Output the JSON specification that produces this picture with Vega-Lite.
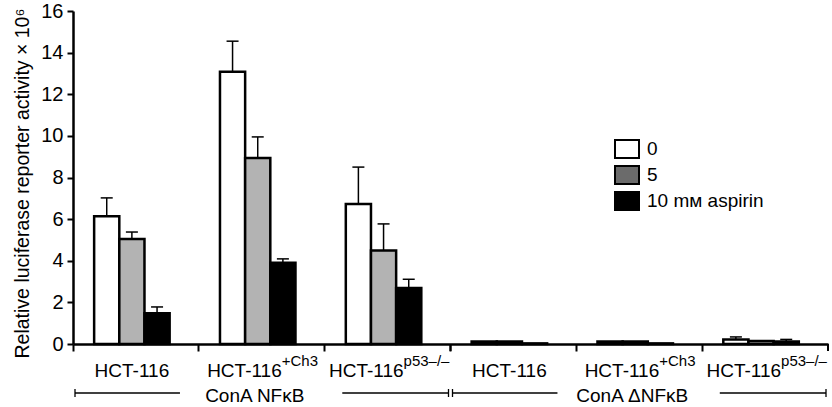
{
  "$schema": "https://vega.github.io/schema/vega-lite/v6.json",
  "autosize": "none",
  "width": 755,
  "height": 333,
  "padding": {"left": 73, "top": 11, "right": 4, "bottom": 63},
  "background": "white",
  "config": {
    "view": {"stroke": null},
    "font": "Liberation Sans",
    "text": {"font": "Liberation Sans", "color": "black"},
    "axis": {"labelFont": "Liberation Sans", "titleFont": "Liberation Sans", "labelColor": "black", "titleColor": "black", "domainColor": "black", "tickColor": "black", "grid": false},
    "legend": {"labelFont": "Liberation Sans", "labelColor": "black"}
  },
  "resolve": {"scale": {"fill": "independent"}},
  "datasets": {
    "bars": [
      {"cell": "NF HCT-116", "dose": "0", "value": 6.14, "err": 7.02},
      {"cell": "NF HCT-116", "dose": "5", "value": 5.05, "err": 5.38},
      {"cell": "NF HCT-116", "dose": "10 mᴍ aspirin", "value": 1.48, "err": 1.78},
      {"cell": "NF HCT-116+Ch3", "dose": "0", "value": 13.08, "err": 14.55},
      {"cell": "NF HCT-116+Ch3", "dose": "5", "value": 8.94, "err": 9.95},
      {"cell": "NF HCT-116+Ch3", "dose": "10 mᴍ aspirin", "value": 3.9, "err": 4.09},
      {"cell": "NF HCT-116p53", "dose": "0", "value": 6.73, "err": 8.5},
      {"cell": "NF HCT-116p53", "dose": "5", "value": 4.49, "err": 5.77},
      {"cell": "NF HCT-116p53", "dose": "10 mᴍ aspirin", "value": 2.69, "err": 3.11},
      {"cell": "dNF HCT-116", "dose": "0", "value": 0.12, "err": 0.12},
      {"cell": "dNF HCT-116", "dose": "5", "value": 0.12, "err": 0.12},
      {"cell": "dNF HCT-116", "dose": "10 mᴍ aspirin", "value": 0.03, "err": 0.03},
      {"cell": "dNF HCT-116+Ch3", "dose": "0", "value": 0.12, "err": 0.12},
      {"cell": "dNF HCT-116+Ch3", "dose": "5", "value": 0.12, "err": 0.12},
      {"cell": "dNF HCT-116+Ch3", "dose": "10 mᴍ aspirin", "value": 0.03, "err": 0.03},
      {"cell": "dNF HCT-116p53", "dose": "0", "value": 0.22, "err": 0.34},
      {"cell": "dNF HCT-116p53", "dose": "5", "value": 0.14, "err": 0.14},
      {"cell": "dNF HCT-116p53", "dose": "10 mᴍ aspirin", "value": 0.12, "err": 0.22}
    ],
    "labels": [
      {"cell": "NF HCT-116", "base": "HCT-116", "sup": "", "kind": "plain"},
      {"cell": "NF HCT-116+Ch3", "base": "HCT-116", "sup": "+Ch3", "kind": "ch3"},
      {"cell": "NF HCT-116p53", "base": "HCT-116", "sup": "p53–/–", "kind": "p53"},
      {"cell": "dNF HCT-116", "base": "HCT-116", "sup": "", "kind": "plain"},
      {"cell": "dNF HCT-116+Ch3", "base": "HCT-116", "sup": "+Ch3", "kind": "ch3"},
      {"cell": "dNF HCT-116p53", "base": "HCT-116", "sup": "p53–/–", "kind": "p53"}
    ],
    "groups": [
      {"first": "NF HCT-116", "mid": "NF HCT-116+Ch3", "last": "NF HCT-116p53", "name": "ConA NFκB"},
      {"first": "dNF HCT-116", "mid": "dNF HCT-116+Ch3", "last": "dNF HCT-116p53", "name": "ConA ΔNFκB"}
    ]
  },
  "layer": [
    {
      "data": {"name": "bars"},
      "mark": {"type": "bar", "stroke": "black", "strokeWidth": 2.5, "opacity": 1},
      "encoding": {
        "x": {"field": "cell", "type": "nominal", "title": null,
          "scale": {"domain": ["NF HCT-116", "NF HCT-116+Ch3", "NF HCT-116p53", "dNF HCT-116", "dNF HCT-116+Ch3", "dNF HCT-116p53"], "paddingInner": 0, "paddingOuter": 0},
          "axis": {"title": null, "labels": false, "bandPosition": 0, "tickSize": 7, "tickWidth": 2, "domainWidth": 2.5}},
        "xOffset": {"field": "dose", "type": "nominal",
          "scale": {"domain": ["0", "5", "10 mᴍ aspirin"], "paddingInner": 0, "paddingOuter": 1.24, "align": 0.42}},
        "y": {"field": "value", "type": "quantitative",
          "scale": {"domain": [0, 16], "nice": false},
          "axis": {"title": "Relative luciferase reporter activity × 10⁶", "values": [0, 2, 4, 6, 8, 10, 12, 14, 16], "tickSize": 6, "tickWidth": 2, "domainWidth": 2.5, "labelFontSize": 20, "labelPadding": 4, "titleFontSize": 19.5, "titleFontWeight": "normal", "titlePadding": 8, "titleY": 172}},
        "fill": {"field": "dose", "type": "nominal",
          "scale": {"domain": ["0", "5", "10 mᴍ aspirin"], "range": ["#ffffff", "#b3b3b3", "#000000"]},
          "legend": null}
      }
    },
    {
      "data": {"name": "bars"},
      "transform": [{"filter": "datum.value < 0"}],
      "mark": {"type": "bar", "stroke": "black", "strokeWidth": 2, "opacity": 1},
      "encoding": {
        "x": {"field": "cell", "type": "nominal", "title": null, "scale": {"domain": ["NF HCT-116", "NF HCT-116+Ch3", "NF HCT-116p53", "dNF HCT-116", "dNF HCT-116+Ch3", "dNF HCT-116p53"]}},
        "y": {"field": "value", "type": "quantitative"},
        "fill": {"field": "dose", "type": "nominal",
          "scale": {"domain": ["0", "5", "10 mᴍ aspirin"], "range": ["#ffffff", "#6b6b6b", "#000000"]},
          "legend": {"title": null, "orient": "none", "legendX": 541, "legendY": 125, "padding": 0,
            "symbolType": "M-1,-0.75H1V0.75H-1Z", "symbolSize": 576, "symbolStrokeColor": "black", "symbolStrokeWidth": 2, "symbolOpacity": 1,
            "labelFontSize": 19, "labelOffset": 7, "rowPadding": 0}}
      }
    },
    {
      "data": {"name": "bars"},
      "transform": [{"filter": "datum.err > datum.value"}],
      "mark": {"type": "rule", "color": "black", "strokeWidth": 1.5},
      "encoding": {
        "x": {"field": "cell", "type": "nominal", "title": null, "scale": {"domain": ["NF HCT-116", "NF HCT-116+Ch3", "NF HCT-116p53", "dNF HCT-116", "dNF HCT-116+Ch3", "dNF HCT-116p53"]}},
        "xOffset": {"field": "dose", "type": "nominal"},
        "y": {"field": "value", "type": "quantitative"},
        "y2": {"field": "err"}
      }
    },
    {
      "data": {"name": "bars"},
      "transform": [{"filter": "datum.err > datum.value"}],
      "mark": {"type": "tick", "color": "black", "thickness": 1.5, "size": 12, "opacity": 1},
      "encoding": {
        "x": {"field": "cell", "type": "nominal", "title": null, "scale": {"domain": ["NF HCT-116", "NF HCT-116+Ch3", "NF HCT-116p53", "dNF HCT-116", "dNF HCT-116+Ch3", "dNF HCT-116p53"]}},
        "xOffset": {"field": "dose", "type": "nominal"},
        "y": {"field": "err", "type": "quantitative"}
      }
    },
    {
      "data": {"name": "labels"},
      "transform": [{"filter": "datum.kind === 'plain'"}],
      "mark": {"type": "text", "fontSize": 19, "baseline": "alphabetic", "align": "center", "dy": 33, "dx": -4},
      "encoding": {
        "x": {"field": "cell", "type": "nominal", "title": null, "scale": {"domain": ["NF HCT-116", "NF HCT-116+Ch3", "NF HCT-116p53", "dNF HCT-116", "dNF HCT-116+Ch3", "dNF HCT-116p53"]}},
        "y": {"datum": 0, "type": "quantitative"},
        "text": {"field": "base"}
      }
    },
    {
      "data": {"name": "labels"},
      "transform": [{"filter": "datum.kind === 'ch3'"}],
      "mark": {"type": "text", "fontSize": 19, "baseline": "alphabetic", "align": "right", "dy": 33, "dx": 20},
      "encoding": {
        "x": {"field": "cell", "type": "nominal", "title": null, "scale": {"domain": ["NF HCT-116", "NF HCT-116+Ch3", "NF HCT-116p53", "dNF HCT-116", "dNF HCT-116+Ch3", "dNF HCT-116p53"]}},
        "y": {"datum": 0, "type": "quantitative"},
        "text": {"field": "base"}
      }
    },
    {
      "data": {"name": "labels"},
      "transform": [{"filter": "datum.kind === 'ch3'"}],
      "mark": {"type": "text", "fontSize": 15, "baseline": "alphabetic", "align": "left", "dy": 22, "dx": 20},
      "encoding": {
        "x": {"field": "cell", "type": "nominal", "title": null, "scale": {"domain": ["NF HCT-116", "NF HCT-116+Ch3", "NF HCT-116p53", "dNF HCT-116", "dNF HCT-116+Ch3", "dNF HCT-116p53"]}},
        "y": {"datum": 0, "type": "quantitative"},
        "text": {"field": "sup"}
      }
    },
    {
      "data": {"name": "labels"},
      "transform": [{"filter": "datum.kind === 'p53'"}],
      "mark": {"type": "text", "fontSize": 19, "baseline": "alphabetic", "align": "right", "dy": 33, "dx": 16},
      "encoding": {
        "x": {"field": "cell", "type": "nominal", "title": null, "scale": {"domain": ["NF HCT-116", "NF HCT-116+Ch3", "NF HCT-116p53", "dNF HCT-116", "dNF HCT-116+Ch3", "dNF HCT-116p53"]}},
        "y": {"datum": 0, "type": "quantitative"},
        "text": {"field": "base"}
      }
    },
    {
      "data": {"name": "labels"},
      "transform": [{"filter": "datum.kind === 'p53'"}],
      "mark": {"type": "text", "fontSize": 15, "baseline": "alphabetic", "align": "left", "dy": 22, "dx": 16},
      "encoding": {
        "x": {"field": "cell", "type": "nominal", "title": null, "scale": {"domain": ["NF HCT-116", "NF HCT-116+Ch3", "NF HCT-116p53", "dNF HCT-116", "dNF HCT-116+Ch3", "dNF HCT-116p53"]}},
        "y": {"datum": 0, "type": "quantitative"},
        "text": {"field": "sup"}
      }
    },
    {
      "data": {"name": "groups"},
      "mark": {"type": "text", "fontSize": 19, "baseline": "alphabetic", "align": "center", "dy": 58, "dx": -7},
      "encoding": {
        "x": {"field": "mid", "type": "nominal", "title": null, "scale": {"domain": ["NF HCT-116", "NF HCT-116+Ch3", "NF HCT-116p53", "dNF HCT-116", "dNF HCT-116+Ch3", "dNF HCT-116p53"]}},
        "y": {"datum": 0, "type": "quantitative"},
        "text": {"field": "name"}
      }
    },
    {
      "data": {"name": "groups"},
      "mark": {"type": "rule", "color": "black", "strokeWidth": 1.3, "yOffset": 49, "y2Offset": 49, "xOffset": 2},
      "encoding": {
        "x": {"field": "first", "type": "nominal", "bandPosition": 0, "title": null, "scale": {"domain": ["NF HCT-116", "NF HCT-116+Ch3", "NF HCT-116p53", "dNF HCT-116", "dNF HCT-116+Ch3", "dNF HCT-116p53"]}},
        "x2": {"field": "first", "bandPosition": 0.85},
        "y": {"datum": 0, "type": "quantitative"},
        "y2": {"datum": 0}
      }
    },
    {
      "data": {"name": "groups"},
      "mark": {"type": "rule", "color": "black", "strokeWidth": 1.3, "yOffset": 49, "y2Offset": 49, "x2Offset": -2},
      "encoding": {
        "x": {"field": "last", "type": "nominal", "bandPosition": 0.14, "title": null, "scale": {"domain": ["NF HCT-116", "NF HCT-116+Ch3", "NF HCT-116p53", "dNF HCT-116", "dNF HCT-116+Ch3", "dNF HCT-116p53"]}},
        "x2": {"field": "last", "bandPosition": 1},
        "y": {"datum": 0, "type": "quantitative"},
        "y2": {"datum": 0}
      }
    },
    {
      "data": {"name": "groups"},
      "mark": {"type": "rule", "color": "black", "strokeWidth": 1.3, "yOffset": 45, "y2Offset": 53, "xOffset": 2},
      "encoding": {
        "x": {"field": "first", "type": "nominal", "bandPosition": 0, "title": null, "scale": {"domain": ["NF HCT-116", "NF HCT-116+Ch3", "NF HCT-116p53", "dNF HCT-116", "dNF HCT-116+Ch3", "dNF HCT-116p53"]}},
        "y": {"datum": 0, "type": "quantitative"},
        "y2": {"datum": 0}
      }
    },
    {
      "data": {"name": "groups"},
      "mark": {"type": "rule", "color": "black", "strokeWidth": 1.3, "yOffset": 45, "y2Offset": 53, "xOffset": -2},
      "encoding": {
        "x": {"field": "last", "type": "nominal", "bandPosition": 1, "title": null, "scale": {"domain": ["NF HCT-116", "NF HCT-116+Ch3", "NF HCT-116p53", "dNF HCT-116", "dNF HCT-116+Ch3", "dNF HCT-116p53"]}},
        "y": {"datum": 0, "type": "quantitative"},
        "y2": {"datum": 0}
      }
    },
    {
      "data": {"name": "groups"},
      "mark": {"type": "rule", "color": "black", "strokeWidth": 2, "yOffset": 0, "y2Offset": 7},
      "encoding": {
        "x": {"field": "last", "type": "nominal", "bandPosition": 1, "title": null, "scale": {"domain": ["NF HCT-116", "NF HCT-116+Ch3", "NF HCT-116p53", "dNF HCT-116", "dNF HCT-116+Ch3", "dNF HCT-116p53"]}},
        "y": {"datum": 0, "type": "quantitative"},
        "y2": {"datum": 0}
      }
    }
  ]
}
